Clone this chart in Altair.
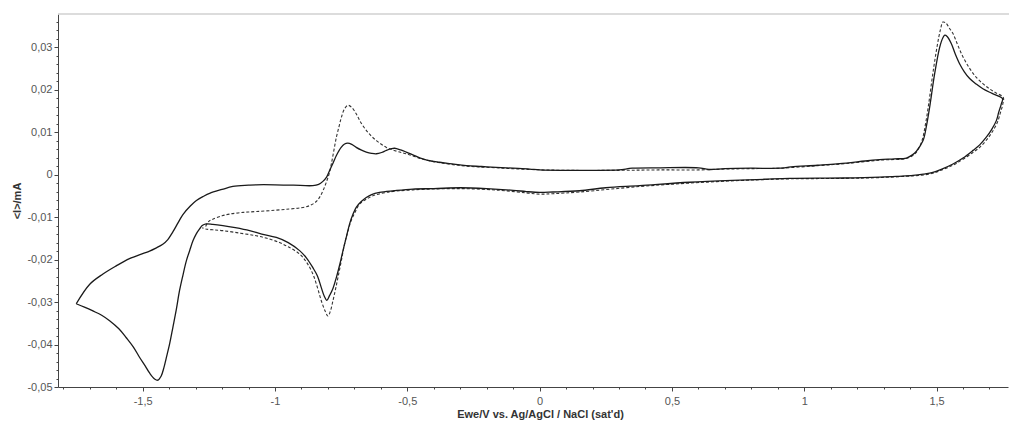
import altair as alt
import pandas as pd

# Solid curve (potential V, current mA) in scan order
solid_v = [-1.751,-1.70,-1.65,-1.60,-1.55,-1.50,-1.474,-1.45,-1.424,-1.405,-1.386,-1.366,-1.348,-1.32,-1.297,-1.27,-1.247,-1.20,-1.159,-1.10,-1.071,-1.00,-0.93,-0.857,-0.835,-0.819,-0.805,-0.794,-0.780,-0.768,-0.750,-0.737,-0.725,-0.710,-0.693,-0.675,-0.655,-0.635,-0.617,-0.597,-0.579,-0.560,-0.548,-0.525,-0.504,-0.470,-0.441,-0.41,-0.378,-0.33,-0.277,-0.22,-0.164,-0.10,-0.038,0.0,0.10,0.20,0.30,0.35,0.45,0.60,0.64,0.70,0.80,0.907,0.95,1.05,1.159,1.23,1.285,1.34,1.386,1.41,1.424,1.449,1.462,1.474,1.493,1.512,1.524,1.531,1.540,1.556,1.570,1.587,1.605,1.625,1.650,1.675,1.71,1.749,
           1.745,1.735,1.726,1.708,1.688,1.663,1.638,1.60,1.562,1.52,1.486,1.45,1.411,1.35,1.285,1.15,0.945,0.85,0.756,0.567,0.378,0.25,0.151,0.05,0.0,-0.05,-0.10,-0.20,-0.30,-0.40,-0.479,-0.55,-0.605,-0.635,-0.655,-0.675,-0.693,-0.705,-0.718,-0.730,-0.743,-0.755,-0.768,-0.781,-0.794,-0.804,-0.814,-0.825,-0.840,-0.857,-0.880,-0.907,-0.95,-0.995,-1.05,-1.096,-1.15,-1.197,-1.235,-1.260,-1.275,-1.285,-1.298,-1.310,-1.322,-1.335,-1.348,-1.361,-1.373,-1.386,-1.398,-1.411,-1.420,-1.430,-1.443,-1.455,-1.474,-1.49,-1.512,-1.535,-1.562,-1.59,-1.625,-1.655,-1.688,-1.72,-1.751]
solid_i = [-0.0304,-0.0258,-0.0234,-0.0215,-0.0198,-0.0186,-0.0180,-0.0173,-0.0164,-0.0153,-0.0135,-0.0113,-0.0094,-0.0074,-0.0061,-0.0051,-0.0044,-0.0035,-0.0028,-0.0025,-0.0024,-0.0024,-0.0025,-0.0026,-0.0023,-0.0016,-0.0006,0.0009,0.0028,0.0045,0.0064,0.0072,0.0074,0.0071,0.0064,0.0058,0.0053,0.0050,0.0049,0.0052,0.0057,0.0061,0.0062,0.0058,0.0053,0.0044,0.0037,0.0032,0.0029,0.0025,0.0021,0.0019,0.0017,0.0015,0.0013,0.0011,0.0010,0.0010,0.0011,0.0015,0.0016,0.0016,0.0012,0.0014,0.0015,0.0015,0.0018,0.0022,0.0027,0.0032,0.0035,0.0037,0.0039,0.0047,0.0055,0.0080,0.0115,0.0159,0.0238,0.0300,0.0322,0.0328,0.0325,0.0308,0.0285,0.0261,0.0242,0.0226,0.0213,0.0202,0.0191,0.0179,
           0.0167,0.0147,0.0127,0.0106,0.0088,0.0070,0.0057,0.0039,0.0025,0.0013,0.0005,0.0001,-0.0002,-0.0004,-0.0006,-0.0008,-0.0009,-0.0011,-0.0013,-0.0018,-0.0026,-0.0031,-0.0038,-0.0041,-0.0042,-0.0040,-0.0037,-0.0033,-0.0031,-0.0033,-0.0034,-0.0038,-0.0042,-0.0047,-0.0054,-0.0064,-0.0077,-0.0093,-0.0116,-0.0146,-0.0179,-0.0211,-0.0242,-0.0268,-0.0285,-0.0296,-0.0286,-0.0266,-0.0238,-0.0219,-0.0197,-0.0179,-0.0160,-0.0148,-0.0140,-0.0132,-0.0125,-0.0120,-0.0117,-0.0116,-0.0120,-0.0128,-0.0140,-0.0156,-0.0178,-0.0203,-0.0237,-0.0274,-0.0318,-0.0360,-0.0398,-0.0432,-0.0455,-0.0474,-0.0484,-0.0481,-0.0467,-0.0451,-0.0430,-0.0406,-0.0384,-0.0363,-0.0344,-0.0331,-0.0321,-0.0312,-0.0304]

# Dashed curve in scan order
dash_v = [-1.262,-1.25,-1.235,-1.20,-1.172,-1.12,-1.071,-1.00,-0.945,-0.90,-0.869,-0.845,-0.831,-0.818,-0.806,-0.794,-0.787,-0.778,-0.768,-0.758,-0.749,-0.737,-0.724,-0.710,-0.693,-0.675,-0.655,-0.635,-0.617,-0.597,-0.579,-0.555,-0.529,-0.504,-0.470,-0.441,-0.378,-0.277,-0.164,-0.038,0.1,0.3,0.45,0.6,0.70,0.80,0.907,1.05,1.159,1.285,1.386,1.41,1.424,1.445,1.458,1.470,1.486,1.503,1.515,1.524,1.535,1.548,1.562,1.58,1.60,1.625,1.650,1.675,1.70,1.725,1.752,
          1.750,1.740,1.730,1.712,1.692,1.666,1.640,1.60,1.562,1.52,1.486,1.45,1.411,1.285,1.15,0.945,0.756,0.567,0.378,0.151,0.05,0.0,-0.05,-0.15,-0.30,-0.479,-0.58,-0.630,-0.655,-0.680,-0.697,-0.712,-0.725,-0.737,-0.750,-0.762,-0.772,-0.781,-0.791,-0.800,-0.810,-0.825,-0.840,-0.857,-0.880,-0.907,-0.95,-0.983,-1.03,-1.071,-1.13,-1.197,-1.235,-1.262,-1.275]
dash_i = [-0.0122,-0.0110,-0.0105,-0.0097,-0.0093,-0.0089,-0.0087,-0.0084,-0.0081,-0.0078,-0.0073,-0.0064,-0.0053,-0.0037,-0.0018,0.0005,0.0025,0.0055,0.0088,0.0113,0.0135,0.0155,0.0163,0.0158,0.0143,0.0122,0.0104,0.0090,0.0080,0.0071,0.0064,0.0058,0.0053,0.0049,0.0042,0.0036,0.0028,0.0020,0.0016,0.0012,0.0010,0.0010,0.0011,0.0011,0.0013,0.0014,0.0015,0.0021,0.0026,0.0034,0.0038,0.0045,0.0053,0.0080,0.0118,0.0165,0.0238,0.0305,0.0342,0.0359,0.0357,0.0345,0.0332,0.0305,0.0277,0.0250,0.0229,0.0214,0.0202,0.0192,0.0182,
          0.0165,0.0143,0.0123,0.0102,0.0084,0.0066,0.0053,0.0036,0.0022,0.0011,0.0003,-0.0001,-0.0003,-0.0007,-0.0009,-0.0010,-0.0014,-0.0020,-0.0028,-0.0041,-0.0045,-0.0046,-0.0043,-0.0037,-0.0033,-0.0036,-0.0042,-0.0050,-0.0058,-0.0069,-0.0088,-0.0108,-0.0135,-0.0163,-0.0205,-0.0242,-0.0272,-0.0297,-0.0322,-0.0333,-0.0322,-0.0297,-0.0265,-0.0234,-0.0207,-0.0187,-0.0170,-0.0160,-0.0150,-0.0144,-0.0138,-0.0132,-0.0130,-0.0128,-0.0125]

x_ticks = [round(k * 0.1, 1) for k in range(-18, 18)]
y_ticks = [round(k * 0.002, 3) for k in range(-25, 19)]

X_DOMAIN = [-1.82, 1.77]
Y_DOMAIN = [-0.05, 0.0378]

solid_df = pd.DataFrame({"v": solid_v, "i": solid_i, "n": range(len(solid_v))})
dash_df = pd.DataFrame({"v": dash_v, "i": dash_i, "n": range(len(dash_v))})

FONT = "Liberation Sans"

x_axis = alt.Axis(
    title="Ewe/V vs. Ag/AgCl / NaCl (sat'd)",
    values=x_ticks,
    labelExpr="round(datum.value*10) % 5 == 0 ? replace(toString(datum.value), '.', ',') : ''",
    tickSize={"condition": {"test": "round(datum.value*10) % 5 == 0", "value": 4}, "value": 2},
    labelFontSize={"condition": {"test": "round(datum.value*10) % 5 == 0", "value": 11}, "value": 0},
    labelOverlap=False,
    grid=False,
    titleX=482,
)
y_axis = alt.Axis(
    title="<I>/mA",
    values=y_ticks,
    labelExpr="round(datum.value*1000) % 10 == 0 ? replace(toString(datum.value), '.', ',') : ''",
    tickSize={"condition": {"test": "round(datum.value*1000) % 10 == 0", "value": 4}, "value": 2},
    labelFontSize={"condition": {"test": "round(datum.value*1000) % 10 == 0", "value": 11}, "value": 0},
    labelOverlap=False,
    grid=False,
)

x_scale = alt.Scale(domain=X_DOMAIN, nice=False, zero=False)
y_scale = alt.Scale(domain=Y_DOMAIN, nice=False, zero=False)

dashed = alt.Chart(dash_df).mark_line(
    color="#333333", strokeWidth=1.1, strokeDash=[3, 2], interpolate="catmull-rom"
).encode(
    x=alt.X("v:Q", scale=x_scale, axis=x_axis),
    y=alt.Y("i:Q", scale=y_scale, axis=y_axis),
    order="n:Q",
)

solid = alt.Chart(solid_df).mark_line(
    color="#1a1a1a", strokeWidth=1.3, interpolate="catmull-rom"
).encode(
    x=alt.X("v:Q", scale=x_scale, axis=x_axis),
    y=alt.Y("i:Q", scale=y_scale, axis=y_axis),
    order="n:Q",
)

top_line = alt.Chart(pd.DataFrame({"t": [Y_DOMAIN[1]]})).mark_rule(
    color="#d0d0d0", strokeWidth=1.5
).encode(y=alt.Y("t:Q", scale=y_scale, axis=y_axis), x=alt.value(0), x2=alt.value(951))

chart = (
    alt.layer(dashed, solid, top_line)
    .properties(
        width=950,
        height=373,
        autosize=alt.AutoSizeParams(type="none"),
        padding={"left": 58, "top": 14, "right": 1, "bottom": 37},
    )
    .configure_view(stroke=None)
    .configure_axis(
        domainColor="#444444",
        tickColor="#444444",
        labelColor="#555555",
        labelFont=FONT,
        labelFontSize=11,
        titleFont=FONT,
        titleFontSize=11,
        titleFontWeight="bold",
        titleColor="#333333",
        labelPadding=2,
    )
    .configure_axisX(labelPadding=4, titlePadding=2)
    .configure_axisY(labelPadding=2, titlePadding=4)
)

chart.save("out.html", embed_options={"renderer": "svg", "actions": False})
